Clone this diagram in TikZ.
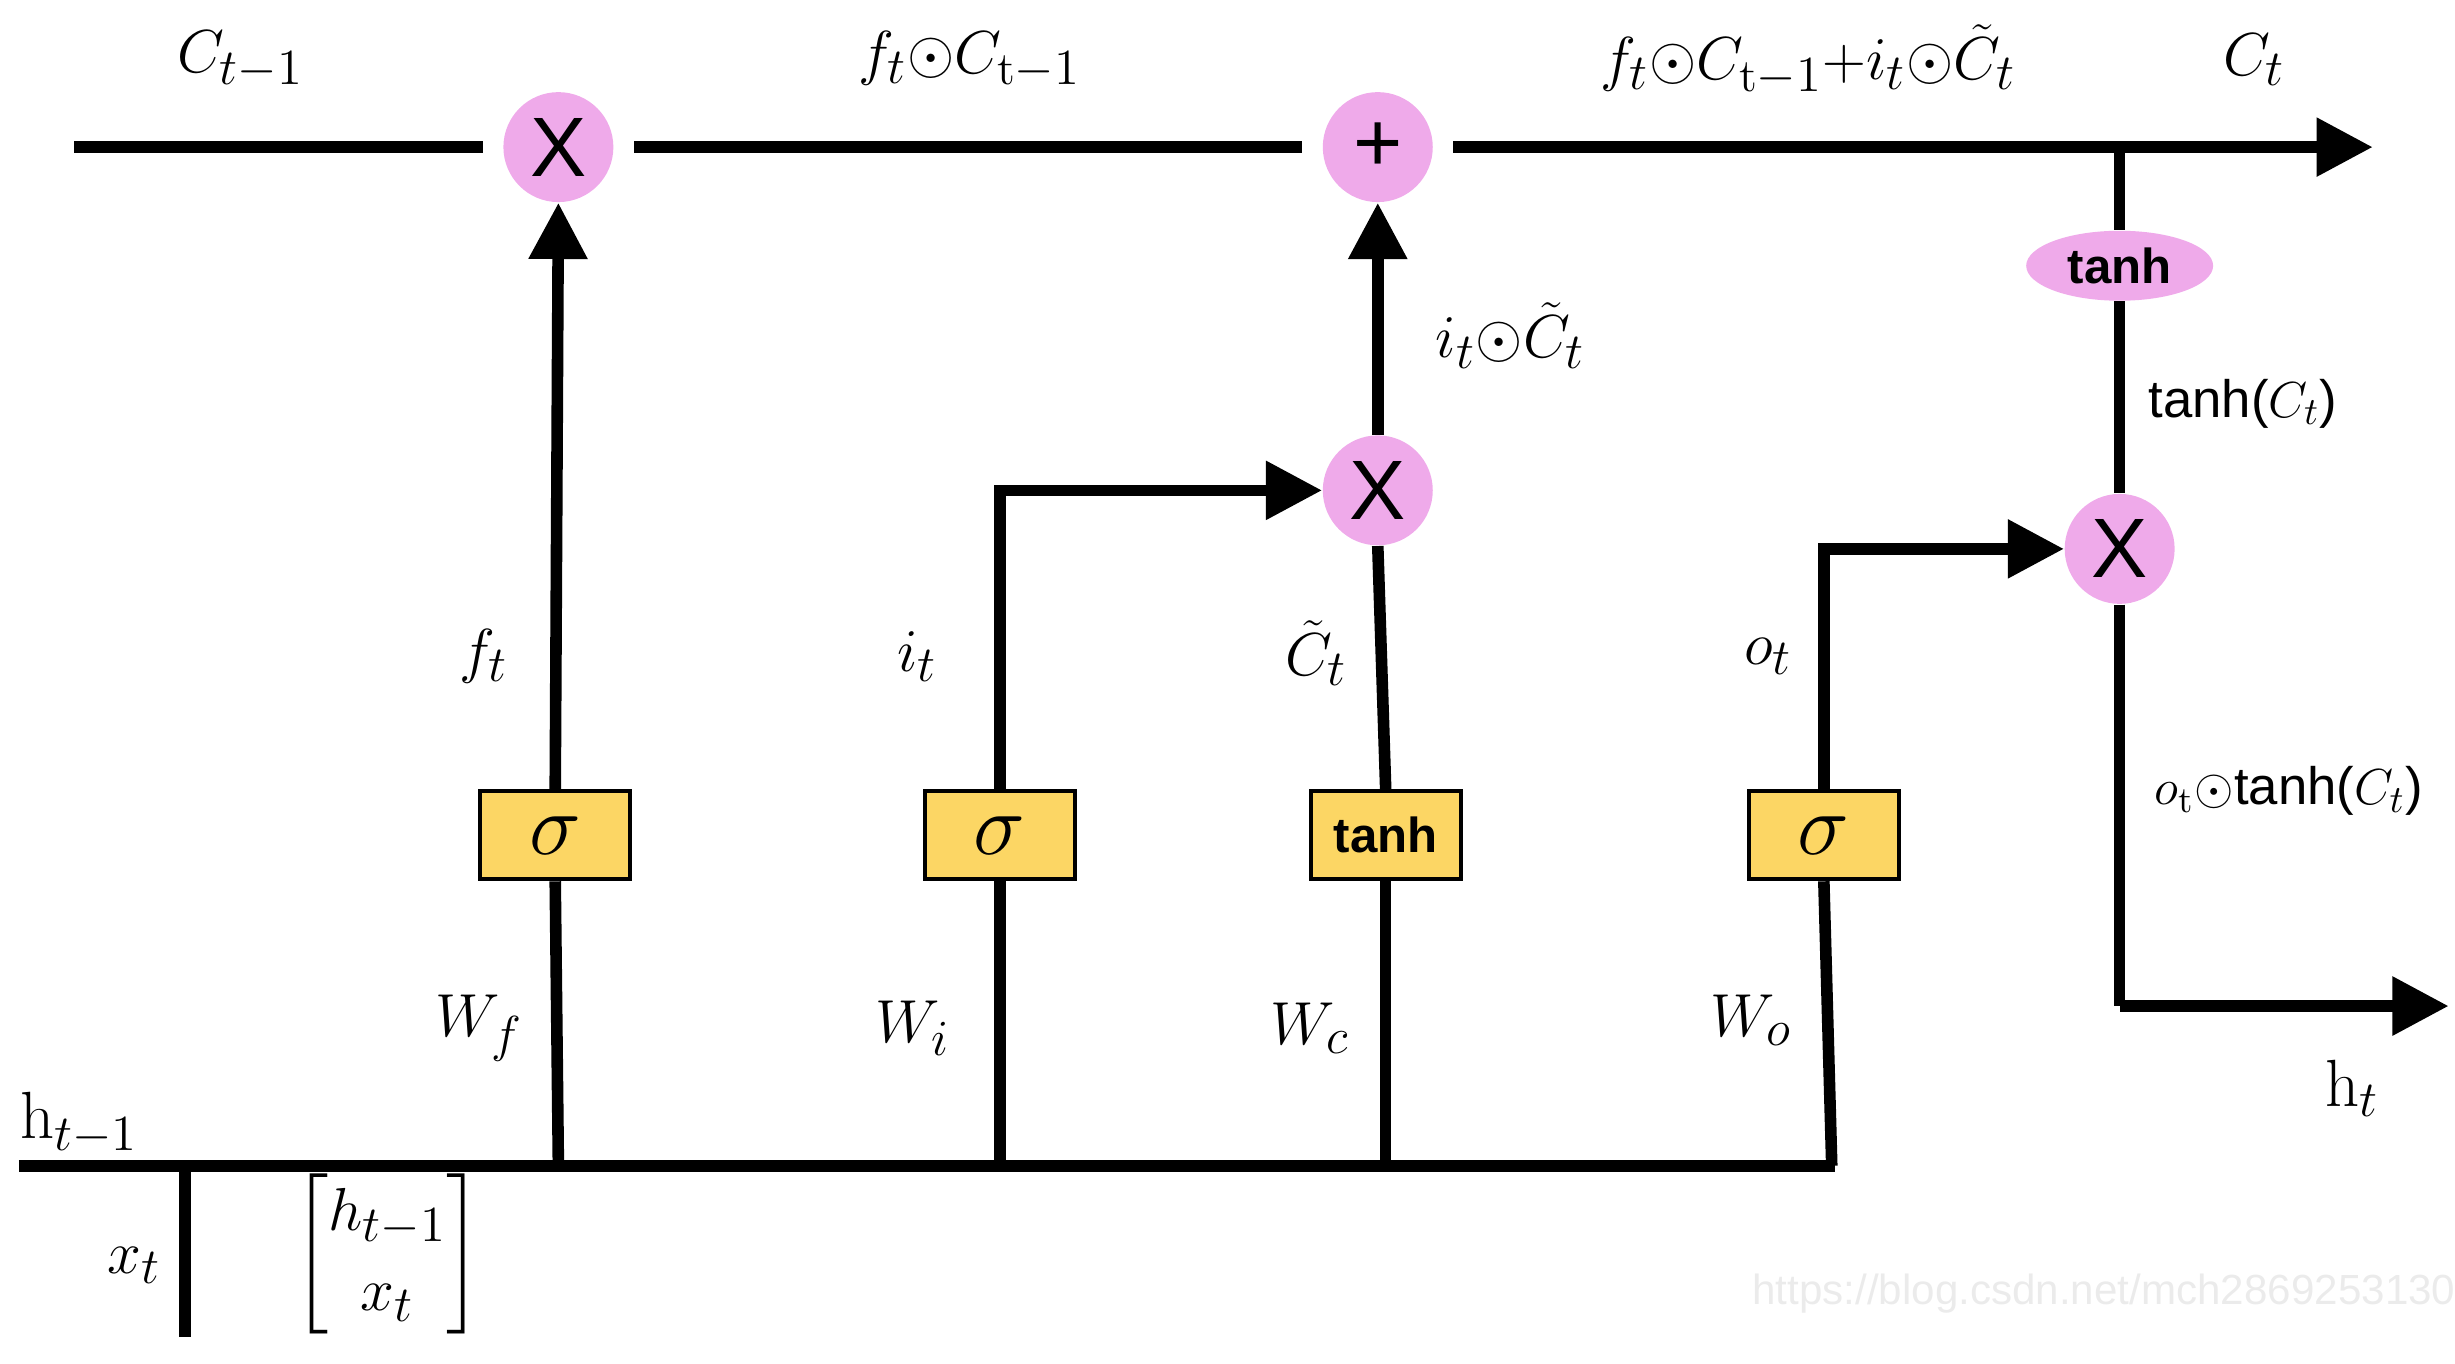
\documentclass[tikz,border=0pt]{standalone}
\usepackage{amsmath,amssymb}
\usepackage{fontspec}
\newfontfamily\sans{Liberation Sans}
\usetikzlibrary{arrows.meta,shapes.geometric}
\begin{document}
\begin{tikzpicture}[x=0.01582cm,y=-0.01582cm,
  ln/.style={line width=3.3pt},
  ar/.style={line width=3.3pt,-{Triangle[length=16pt,width=16pt]}},
  op/.style={circle,fill=cPink,minimum size=1.1cm,inner sep=0pt,font=\sans\fontsize{24}{28}\selectfont},
  box/.style={rectangle,draw=black,line width=1.2pt,fill=cY,minimum width=1.5cm,minimum height=0.88cm,inner sep=0pt},
  lab/.style={font=\fontsize{19}{23}\selectfont},
  slab/.style={font=\sans\fontsize{15}{18}\selectfont}]
\definecolor{cPink}{RGB}{239,170,234}
\definecolor{cY}{RGB}{252,214,100}
\path[use as bounding box] (0,0) rectangle (1552,862);
% nodes
\node[op] (m1) at (353,93) {X};
\node[op] (p1) at (871,93) {+};
\node[op] (m2) at (871,310) {X};
\node[op] (m3) at (1340,347) {X};
\node[box] (s1) at (351,528) {\fontsize{26}{28}\selectfont$\sigma$};
\node[box] (s2) at (632,528) {\fontsize{26}{28}\selectfont$\sigma$};
\node[box] (tb) at (876,528) {\sans\bfseries\fontsize{14}{17}\selectfont tanh};
\node[box] (s3) at (1153,528) {\fontsize{26}{28}\selectfont$\sigma$};
\node[ellipse,fill=cPink,minimum width=1.87cm,minimum height=0.7cm,inner sep=0pt,font=\sans\bfseries\fontsize{14}{17}\selectfont] (te) at (1340,168) {tanh};
\coordinate (cs) at (47,93);
\coordinate (ce) at (1500,93);
\coordinate (ct) at (1340,93);
\coordinate (hs) at (12,737);
\coordinate (he) at (1160,737);
\coordinate (b1) at (353,737);
\coordinate (b2) at (632,737);
\coordinate (b3) at (876,737);
\coordinate (b4) at (1158,737);
\coordinate (xt) at (117,845);
\coordinate (xb) at (117,737);
\coordinate (hc) at (1340,636);
\coordinate (ho) at (1548,636);
% lines
\draw[ln] (cs) -- ([xshift=-0.2cm]m1.west);
\draw[ln] ([xshift=0.2cm]m1.east) -- ([xshift=-0.2cm]p1.west);
\draw[ar] ([xshift=0.2cm]p1.east) -- (ce);
\draw[ln] (hs) -- (he);
\draw[ln] (xb) -- (xt);
\draw[ln] (b1) -- (s1.south);
\draw[ar] (s1.north) -- (m1.south);
\draw[ln] (b2) -- (s2.south);
\draw[ar] (s2.north) |- (m2.west);
\draw[ln] (b3) -- (tb.south);
\draw[ln] (tb.north) -- (m2.south);
\draw[ar] (m2.north) -- (p1.south);
\draw[ln] (b4) -- (s3.south);
\draw[ar] (s3.north) |- (m3.west);
\draw[ln] (ct) -- (te.north);
\draw[ln] (te.south) -- (m3.north);
\draw[ln] (m3.south) -- (hc);
\draw[ar] (hc) -- (ho);
% labels
\node[lab] at (152,38) {$C_{t-1}$};
\node[lab] at (613,38) {$f_t{\odot}C_{\mathrm{t}-1}$};
\node[lab] at (1143,38) {$f_t{\odot}C_{\mathrm{t}-1}{+}i_t{\odot}\tilde{C}_t$};
\node[lab] at (1425,38) {$C_t$};
\node[lab] at (955,212) {$i_t{\odot}\tilde{C}_t$};
\node[slab] at (1418,255) {tanh($C_t$)};
\node[lab] at (306,415) {$f_t$};
\node[lab] at (580,415) {$i_t$};
\node[lab] at (832,413) {$\tilde{C}_t$};
\node[lab] at (1118,415) {$o_t$};
\node[lab] at (303,650) {$W_f$};
\node[lab] at (577,650) {$W_i$};
\node[lab] at (828,650) {$W_c$};
\node[lab] at (1107,645) {$W_o$};
\node[lab] at (50,710) {$\mathrm{h}_{t-1}$};
\node[lab] at (85,800) {$x_t$};
\node[lab] at (245,793) {$\begin{bmatrix}h_{t-1}\\ x_t\end{bmatrix}$};
\node[slab] at (1447,500) {$o_{\mathrm{t}}$$\odot$tanh($C_t$)};
\node[lab] at (1487,688) {$\mathrm{h}_t$};
\node[font=\sans\fontsize{12}{15}\selectfont,text=black!8] at (1330,818) {https://blog.csdn.net/mch2869253130};
\end{tikzpicture}
\end{document}
